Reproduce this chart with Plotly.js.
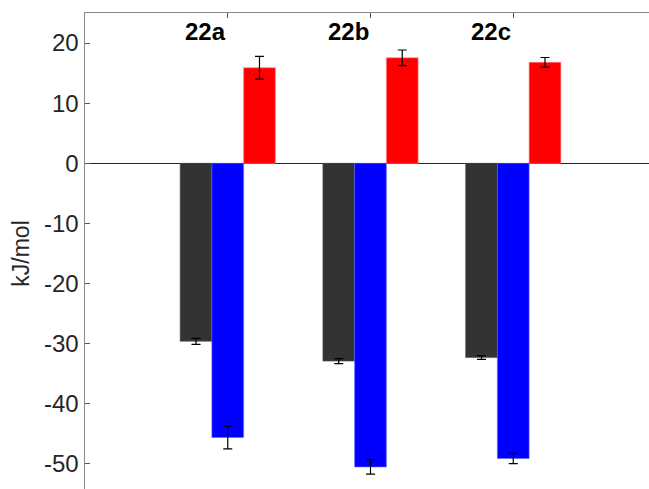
<!DOCTYPE html>
<html>
<head>
<meta charset="utf-8">
<script src="https://cdn.plot.ly/plotly-3.0.1.min.js"></script>
<style>
html, body { margin: 0; padding: 0; overflow: hidden; background: #fff; }
#chart { width: 660px; height: 500px; }
</style>
</head>
<body>
<div id="chart"></div>
<script>
var categories = ['22a', '22b', '22c'];
var positions = [1, 2, 3];
var greyValues = [-29.6, -32.9, -32.3];
var greyErrors = [0.5, 0.4, 0.3];
var blueValues = [-45.6, -50.5, -49.1];
var blueErrors = [1.9, 1.2, 0.85];
var redValues = [15.9, 17.55, 16.8];
var redErrors = [1.9, 1.3, 0.8];
var yTicks = [-50, -40, -30, -20, -10, 0, 10, 20];

function barTrace(vals, errs, color, edge) {
  return {
    type: 'bar', x: positions, y: vals,
    marker: { color: color, line: { color: edge, width: 0.6 } },
    error_y: { type: 'data', array: errs, visible: true, color: '#000', thickness: 1.2, width: 4.5 },
    showlegend: false, hoverinfo: 'none'
  };
}

var data = [
  barTrace(greyValues, greyErrors, '#333333', '#555555'),
  barTrace(blueValues, blueErrors, '#0000ff', '#6666ff'),
  barTrace(redValues, redErrors, '#ff0000', '#ff8888')
];

var annotations = categories.map(function (c, i) {
  return {
    x: positions[i], y: 21.9, xref: 'x', yref: 'y',
    text: '<b>' + c + '</b>', showarrow: false,
    xanchor: 'right', yanchor: 'middle',
    font: { family: 'Liberation Sans, Arial, sans-serif', size: 24, color: '#000' }
  };
});

var layout = {
  width: 660, height: 500,
  margin: { l: 85, r: 4, t: 13, b: 6, pad: 0 },
  paper_bgcolor: '#fff', plot_bgcolor: '#fff',
  barmode: 'group', bargap: 0.333, bargroupgap: 0,
  font: { family: 'Liberation Sans, Arial, sans-serif', color: '#262626' },
  xaxis: {
    range: [0, 4], tickvals: positions, ticktext: ['', '', ''],
    showticklabels: false, ticks: 'inside', ticklen: 5, tickwidth: 1, tickcolor: '#555',
    showline: true, linecolor: '#888', linewidth: 1.5, mirror: 'ticks',
    showgrid: false, zeroline: false, fixedrange: true
  },
  yaxis: {
    range: [-55, 25], tickvals: yTicks, ticktext: yTicks.map(String),
    ticks: 'inside', ticklen: 5, tickwidth: 1, tickcolor: '#555',
    tickfont: { size: 24, color: '#262626' },
    showline: true, linecolor: '#888', linewidth: 1.5, mirror: 'ticks',
    showgrid: false, zeroline: true, zerolinecolor: '#262626', zerolinewidth: 1,
    title: { text: 'kJ/mol', font: { size: 23, color: '#262626' }, standoff: 8 },
    automargin: false, fixedrange: true
  },
  annotations: annotations
};

Plotly.newPlot('chart', data, layout, { staticPlot: true, displayModeBar: false });
</script>
</body>
</html>
